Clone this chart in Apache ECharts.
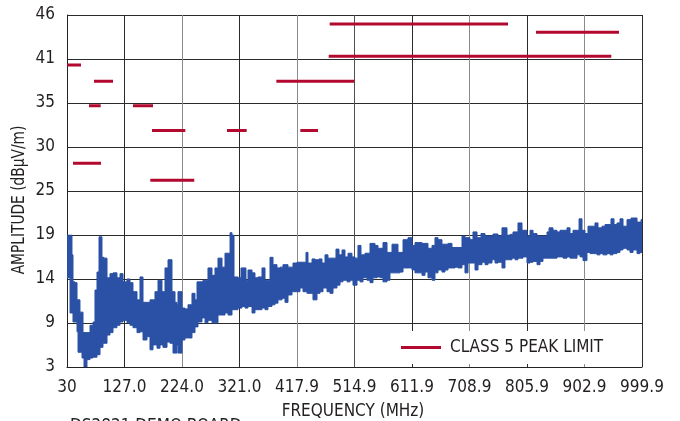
<!DOCTYPE html>
<html>
<head>
  <meta charset="UTF-8">
  <title>Class 5 radiated emissions</title>
  <style>
    html, body { margin: 0; padding: 0; background: #fff; }
    #chart { width: 680px; height: 421px; }
  </style>
  <script src="https://cdn.jsdelivr.net/npm/echarts@6/dist/echarts.min.js"></script>
</head>
<body>
  <div id="chart"></div>
  <script>
    // axis tick labels (evenly spaced on the original plot)
    const freqLabels = ['30', '127.0', '224.0', '321.0', '417.9', '514.9', '611.9', '708.9', '805.9', '902.9', '999.9'];
    const ampLabels = ['3', '9', '14', '19', '25', '30', '35', '41', '46'];
    const freqMin = 30, freqMax = 999.9;
    const ampMin = 3, ampMax = 46;

    // class 5 peak limit segments (MHz, dBuV/m)
    const limitStart = [30.0, 75.5, 67.1, 141.3, 173.4, 299.9, 423.6, 40.1, 170.5, 383.1, 473.1, 821.1, 471.4];
    const limitEnd   = [53.6, 107.6, 86.8, 175.1, 229.6, 333.1, 453.4, 87.4, 244.7, 514.6, 773.9, 961.1, 948.1];
    const limitLevel = [39.9, 37.9, 34.9, 34.9, 31.9, 31.9, 31.9, 27.9, 25.8, 37.9, 44.9, 43.9, 40.95];

    // measured emission, upper and lower edge of the noise band
    const bandTop = [
      [30.0,19.1],[35.1,19.1],[38.4,16.7],[40.1,13.4],[43.5,13.3],[46.9,11.2],[51.9,9.7],[57.0,7.2],[63.7,7.2],[68.8,8.1],
      [73.9,8.5],[77.2,12.4],[80.6,14.6],[84.0,18.9],[89.0,16.4],[92.4,16.3],[97.5,13.9],[102.5,14.4],[107.6,14.5],[114.3,13.9],
      [119.4,14.4],[124.5,13.4],[131.2,13.75],[136.3,13.3],[141.3,12.2],[148.1,11.2],[153.1,14.0],[158.2,10.9],[164.9,10.9],[170.0,11.2],
      [178.4,12.2],[183.5,13.6],[190.2,12.2],[195.3,15.1],[200.4,16.1],[207.1,12.2],[212.2,10.9],[215.5,10.6],[217.2,12.2],[224.0,10.2],
      [229.0,10.1],[234.1,10.6],[240.8,12.0],[245.9,11.2],[249.3,13.4],[254.3,13.4],[259.4,13.6],[262.8,13.6],[267.8,15.1],[274.6,14.2],
      [279.6,15.1],[284.7,16.3],[291.5,15.2],[296.5,16.9],[301.6,16.9],[305.0,19.4],[308.3,19.1],[311.7,14.0],[318.4,13.9],[323.5,15.1],
      [326.9,15.1],[331.9,13.6],[335.3,14.85],[342.1,14.5],[347.1,13.9],[352.2,14.0],[358.9,15.1],[364.0,13.6],[372.4,16.4],[377.5,15.5],
      [384.2,15.1],[389.3,15.2],[394.3,15.5],[402.8,15.2],[406.2,15.2],[411.2,15.7],[418.0,15.8],[423.0,15.8],[428.1,15.8],[433.1,17.0],
      [436.5,15.7],[443.3,16.2],[448.3,16.1],[455.1,16.2],[460.1,15.7],[465.2,16.7],[470.2,16.3],[477.0,16.3],[483.7,17.4],[488.8,16.7],
      [493.9,17.3],[498.9,16.45],[504.0,16.9],[510.7,16.45],[515.8,16.3],[520.8,17.85],[525.9,16.7],[532.7,16.9],[541.1,18.1],[549.5,17.85],
      [554.6,17.5],[563.0,18.2],[569.8,17.0],[578.2,18.0],[583.3,18.0],[588.3,17.0],[596.8,18.55],[605.2,18.8],[611.9,17.85],[617.0,18.2],
      [622.1,18.2],[628.8,18.1],[633.9,18.1],[638.9,17.5],[645.7,17.85],[650.7,18.8],[655.8,18.55],[662.5,18.0],[667.6,18.0],[672.7,18.1],
      [679.4,17.6],[684.5,17.6],[689.5,17.6],[696.3,19.0],[701.3,18.8],[709.8,18.55],[714.8,19.5],[721.6,18.8],[728.3,19.3],[735.1,19.0],
      [740.2,19.0],[748.6,19.25],[757.0,19.0],[763.7,20.0],[772.2,19.1],[777.3,19.2],[782.3,19.5],[790.7,20.6],[797.5,19.7],[805.9,19.0],
      [811.0,19.7],[816.1,19.3],[822.8,19.0],[827.9,19.0],[832.9,19.0],[839.7,19.5],[843.1,20.0],[849.8,19.7],[856.5,19.5],[861.6,19.7],
      [866.7,19.7],[873.4,20.0],[878.5,19.3],[883.5,19.7],[888.6,19.7],[893.7,21.1],[898.7,19.7],[903.8,19.3],[908.8,20.2],[915.6,20.2],
      [920.6,20.6],[925.7,20.0],[932.4,20.2],[937.5,20.4],[942.6,20.4],[947.6,21.1],[952.7,20.4],[957.7,20.6],[962.8,21.1],[967.9,20.2],
      [974.6,21.0],[981.4,21.2],[986.4,21.2],[991.5,20.7],[998.3,21.0],[999.9,20.8]
    ];
    const bandBottom = [
      [30.0,13.9],[35.1,9.6],[40.1,8.5],[46.9,7.3],[48.6,4.8],[55.3,4.1],[58.7,3.0],[63.7,3.9],[68.8,4.1],[73.9,4.2],
      [80.6,4.5],[85.7,5.4],[90.7,5.9],[97.5,6.9],[102.5,7.2],[107.6,7.8],[114.3,8.1],[119.4,8.5],[124.5,8.7],[131.2,8.4],
      [136.3,8.1],[141.3,7.8],[148.1,7.2],[153.1,7.3],[158.2,6.3],[164.9,6.7],[170.0,5.1],[175.1,5.7],[181.8,5.3],[186.9,5.7],
      [191.9,5.4],[198.7,6.05],[203.7,5.9],[208.8,4.7],[215.5,5.7],[217.2,4.7],[224.0,6.3],[229.0,6.55],[234.1,6.55],[240.8,7.2],
      [245.9,7.9],[251.0,8.5],[257.7,9.0],[262.8,8.4],[267.8,8.7],[274.6,8.4],[279.6,8.4],[284.7,9.35],[291.5,9.35],[296.5,9.6],
      [301.6,9.35],[308.3,10.0],[313.4,10.0],[318.4,10.2],[325.2,10.4],[330.2,10.2],[335.3,10.4],[342.1,9.6],[347.1,10.0],[352.2,10.0],
      [358.9,10.2],[364.0,10.0],[369.0,10.4],[375.8,10.6],[380.8,10.8],[385.9,11.2],[392.7,11.4],[397.7,10.9],[402.8,11.8],[409.5,12.2],
      [414.6,12.2],[418.0,12.2],[423.0,12.65],[428.1,12.2],[434.8,12.0],[439.9,12.0],[444.9,11.2],[451.7,12.0],[456.8,12.2],[461.8,12.65],
      [468.6,12.2],[473.6,12.0],[478.7,12.65],[485.4,13.0],[490.5,13.4],[495.5,13.6],[502.3,13.4],[507.4,13.6],[512.4,13.0],[519.2,13.6],
      [524.2,13.4],[529.3,13.9],[536.0,13.6],[541.1,13.3],[546.2,13.9],[552.9,14.0],[558.0,13.9],[563.0,13.4],[569.8,13.6],[574.8,14.5],
      [579.9,14.5],[586.6,14.5],[591.7,14.6],[596.8,15.1],[605.2,15.1],[611.9,14.85],[617.0,14.5],[622.1,14.5],[628.8,14.2],[633.9,14.6],
      [638.9,13.9],[645.7,13.6],[650.7,14.5],[655.8,14.85],[662.5,14.6],[667.6,14.85],[672.7,15.1],[679.4,15.1],[684.5,15.2],[689.5,15.1],
      [696.3,15.5],[701.3,14.5],[706.4,15.7],[713.1,15.7],[718.2,14.85],[723.3,15.5],[730.0,15.8],[735.1,15.5],[740.2,15.7],[746.9,16.1],
      [752.0,15.7],[757.0,15.8],[763.7,15.1],[768.8,16.1],[773.9,16.1],[780.6,16.3],[785.7,16.1],[790.7,16.3],[799.2,16.45],[805.9,15.7],
      [811.0,15.8],[816.1,15.9],[822.8,15.5],[827.9,15.9],[832.9,16.3],[839.7,16.3],[844.8,16.3],[849.8,16.3],[856.5,16.45],[861.6,16.45],
      [866.7,16.3],[873.4,16.45],[878.5,16.3],[883.5,16.3],[890.3,16.7],[895.4,16.45],[900.4,16.0],[907.1,17.0],[912.2,16.85],[917.3,16.85],
      [924.0,16.7],[929.1,16.85],[934.1,16.7],[940.9,16.85],[945.9,16.7],[951.0,16.85],[957.7,17.0],[962.8,17.3],[967.9,17.5],[974.6,17.3],
      [979.7,17.0],[984.8,17.3],[991.5,16.85],[996.6,17.0],[999.9,17.0]
    ];

    const FONT = '"DejaVu Sans Condensed", "Liberation Sans Narrow", Arial, sans-serif';
    const FS = 17;
    const TEXT = '#231f20';
    const LIMIT_RED = '#b3092f';
    const BAND_BLUE = '#2a51a5';

    // line with gaps between the limit segments
    const limitData = [];
    for (let i = 0; i < limitStart.length; i++) {
      limitData.push([limitStart[i], limitLevel[i]]);
      limitData.push([limitEnd[i], limitLevel[i]]);
      limitData.push([limitEnd[i], '-']);
    }

    // stepped outline: hold each reading until the next one, like the analyser trace
    function stepEdge(edge, api) {
      const pts = [];
      for (let i = 0; i < edge.length; i++) {
        pts.push(api.coord(edge[i]));
        if (i + 1 < edge.length) pts.push(api.coord([edge[i + 1][0], edge[i][1]]));
      }
      return pts;
    }

    const chart = echarts.init(document.getElementById('chart'));
    chart.setOption({
      animation: false,
      textStyle: { fontFamily: FONT },
      grid: { left: 67, right: 38, top: 15, bottom: 54 },
      xAxis: [
        {
          type: 'category', data: freqLabels, boundaryGap: false,
          axisLine: { lineStyle: { color: '#222', width: 1 } },
          axisTick: { show: false },
          axisLabel: { interval: 0, margin: 12, color: TEXT, fontSize: FS, fontFamily: FONT },
          splitLine: {
            show: true, interval: 0,
            lineStyle: { color: ['#2b2b2b', '#2b2b2b', '#8c8c8c', '#2b2b2b', '#8c8c8c', '#505050', '#2b2b2b', '#8c8c8c', '#2b2b2b', '#8c8c8c', '#2b2b2b'], width: 1 }
          }
        },
        { type: 'value', min: freqMin, max: freqMax, show: false }
      ],
      yAxis: [
        {
          type: 'category', data: ampLabels, boundaryGap: false,
          axisLine: { lineStyle: { color: '#222', width: 1 } },
          axisTick: { show: false },
          axisLabel: { interval: 0, margin: 12, color: TEXT, fontSize: FS, fontFamily: FONT },
          splitLine: { show: true, interval: 0, lineStyle: { color: '#2b2b2b', width: 1 } }
        },
        { type: 'value', min: ampMin, max: ampMax, show: false }
      ],
      legend: {
        data: ['CLASS 5 PEAK LIMIT'],
        left: 390, top: 331,
        padding: [8, 34, 8, 11],
        backgroundColor: '#fff',
        icon: 'rect', itemWidth: 40, itemHeight: 3,
        textStyle: { color: TEXT, fontSize: FS, fontFamily: FONT, lineHeight: 16, padding: [0, 0, 0, 4] }
      },
      graphic: [
        {
          type: 'text', x: 20, y: 200, rotation: Math.PI / 2, scaleX: 0.9,
          style: { text: 'AMPLITUDE (dBµV/m)', fill: TEXT, font: FS + 'px ' + FONT, align: 'center', verticalAlign: 'middle' }
        },
        {
          type: 'text', x: 353, y: 412,
          style: { text: 'FREQUENCY (MHz)', fill: TEXT, font: FS + 'px ' + FONT, align: 'center', verticalAlign: 'middle' }
        },
        {
          type: 'text', x: 70, y: 418,
          style: { text: 'DS2821 DEMO BOARD', fill: TEXT, font: FS + 'px ' + FONT, align: 'left', verticalAlign: 'top' }
        }
      ],
      series: [
        {
          name: 'EMISSION',
          type: 'custom',
          xAxisIndex: 1, yAxisIndex: 1,
          clip: true,
          data: [[freqMin, ampMin]],
          renderItem: function (params, api) {
            const top = stepEdge(bandTop, api);
            const bottom = stepEdge(bandBottom, api).reverse();
            return {
              type: 'polygon',
              shape: { points: top.concat(bottom) },
              style: { fill: BAND_BLUE, stroke: BAND_BLUE, lineWidth: 1, lineJoin: 'miter' }
            };
          },
          z: 2
        },
        {
          name: 'CLASS 5 PEAK LIMIT',
          type: 'line',
          xAxisIndex: 1, yAxisIndex: 1,
          data: limitData,
          showSymbol: false, symbol: 'none',
          connectNulls: false,
          lineStyle: { color: LIMIT_RED, width: 3, cap: 'butt' },
          itemStyle: { color: LIMIT_RED },
          z: 3
        }
      ]
    });
  </script>
</body>
</html>
